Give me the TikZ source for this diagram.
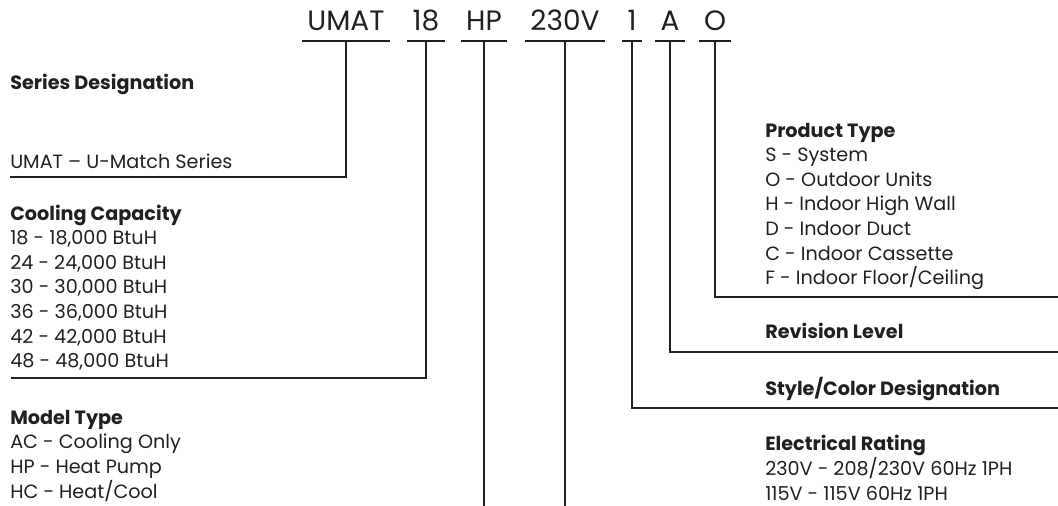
\documentclass[tikz,border=0pt]{standalone}
\usepackage{fontspec}
\setmainfont{Poppins}
\definecolor{ink}{HTML}{231F20}
\tikzset{
  codepart/.style={anchor=base, inner xsep=3pt, inner ysep=7.5pt, text depth=0pt,
    font=\fontsize{21}{24}\selectfont},
  legend/.style={anchor=base west, inner sep=0pt, align=left,
    font=\fontsize{14.4}{18.5}\selectfont},
  lead/.style={line width=1.4pt, line cap=rect},
}
\begin{document}
\begin{tikzpicture}[x=0.75pt,y=0.75pt,yscale=-1,xscale=1,color=ink]
        \useasboundingbox (0,0) rectangle (1058,506);
        
        % model code
        \node[codepart] (umat)  at (346,31) {UMAT};
        \node[codepart] (cap)   at (426,31) {18};
        \node[codepart] (mtype) at (484,31) {HP};
        \node[codepart] (volt)  at (565,31) {230V};
        \node[codepart] (sty)   at (632,31) {1};
        \node[codepart] (rev)   at (670,31) {A};
        \node[codepart] (prod)  at (715,31) {O};
        \foreach \p in {umat,cap,mtype,volt,sty,rev,prod}
          \draw[lead] (\p.south west) -- (\p.south east);
        
        % left legend (multi-line nodes sit on their last line)
        \node[legend] (series) at (10,90) {\bfseries Series Designation};
        \node[legend] (seriesval) at (10,169) {UMAT – U-Match Series};
        \node[legend] (cooling) at (10,368) {\bfseries Cooling Capacity\\
          18 - 18,000 BtuH\\24 - 24,000 BtuH\\30 - 30,000 BtuH\\
          36 - 36,000 BtuH\\42 - 42,000 BtuH\\48 - 48,000 BtuH};
        \node[legend] (model) at (10,498) {\bfseries Model Type\\
          AC - Cooling Only\\HP - Heat Pump\\HC - Heat/Cool};
        
        % right legend
        \node[legend] (product) at (765,285) {\bfseries Product Type\\
          S - System\\O - Outdoor Units\\H - Indoor High Wall\\
          D - Indoor Duct\\C - Indoor Cassette\\F - Indoor Floor/Ceiling};
        \node[legend] (revision) at (765,339) {\bfseries Revision Level};
        \node[legend] (stylecol) at (765,395) {\bfseries Style/Color Designation};
        \node[legend] (elec) at (765,500) {\bfseries Electrical Rating\\
          230V - 208/230V 60Hz 1PH\\115V - 115V 60Hz 1PH};
        
        % leader ends
        \coordinate (seriesend) at (11,177);
        \coordinate (coolend) at (12,378);
        \coordinate (prodend) at (1058,297);
        \coordinate (revend) at (1058,352);
        \coordinate (styend) at (1058,408);
        \coordinate (bottom) at (0,506);
        
        % leaders
        \draw[lead] (umat.south) |- (seriesend);
        \draw[lead] (cap.south) |- (coolend);
        \draw[lead] (mtype.south) -- (mtype.south |- bottom);
        \draw[lead] (volt.south) -- (volt.south |- bottom);
        \draw[lead] (sty.south) |- (styend);
        \draw[lead] (rev.south) |- (revend);
        \draw[lead] (prod.south) |- (prodend);
    \end{tikzpicture}
\end{document}
